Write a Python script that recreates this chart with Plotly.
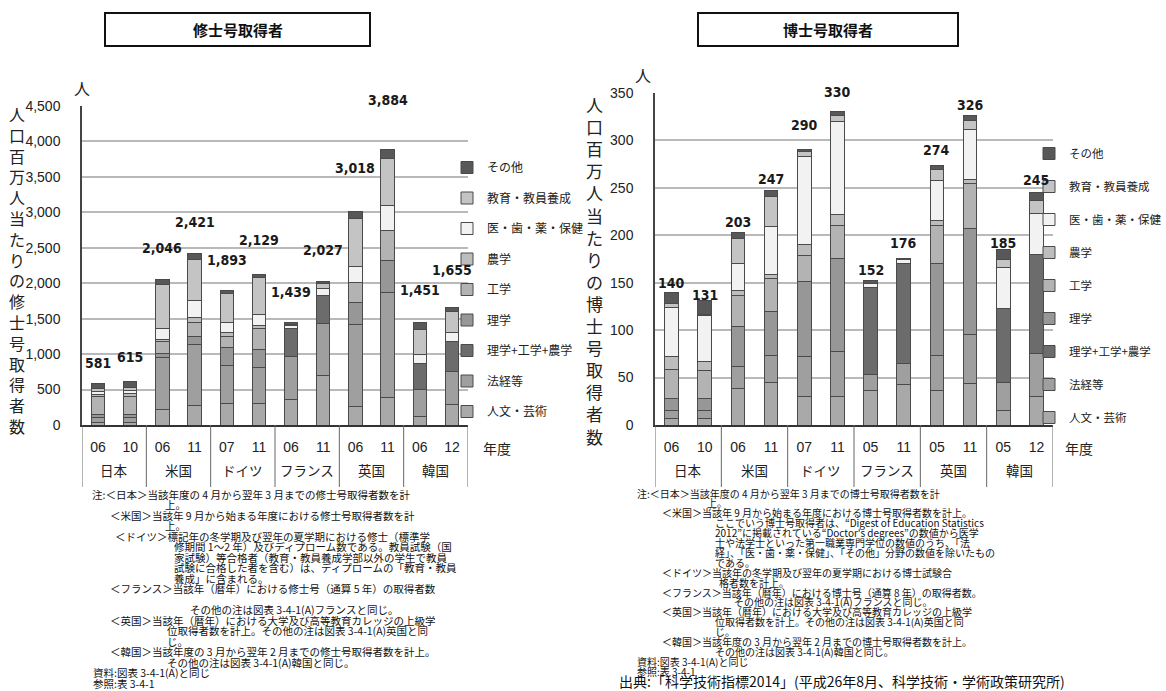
import plotly.graph_objects as go

# ---------------- data ----------------
countries = ["日本", "日本", "米国", "米国", "ドイツ", "ドイツ",
             "フランス", "フランス", "英国", "英国", "韓国", "韓国"]
country_groups = ["日本", "米国", "ドイツ", "フランス", "英国", "韓国"]
years_master = ["06", "10", "06", "11", "07", "11", "06", "11", "06", "11", "06", "12"]
years_doctor = ["06", "10", "06", "11", "07", "11", "05", "11", "05", "11", "05", "12"]

series_names = ["人文・芸術", "法経等", "理学+工学+農学", "理学", "工学",
                "農学", "医・歯・薬・保健", "教育・教員養成", "その他"]

# 修士号取得者 (人口百万人当たり)
m_humanities = [40, 38, 224, 271, 300, 300, 363, 694, 260, 381, 127, 283]
m_law_econ   = [70, 65, 728, 871, 533, 509, 600, 736, 1156, 1495, 368, 472]
m_sci_eng_ag = [None, None, None, None, None, None, 400, 390, None, None, 378, 425]
m_science    = [43, 45, 60, 110, 262, 262, None, None, 307, 451, None, None]
m_engineer   = [245, 255, 170, 200, 157, 286, None, None, 283, 423, None, None]
m_agri       = [35, 38, 22, 71, 48, 48, None, None, None, None, None, None]
m_health     = [40, 45, 162, 238, 152, 152, 40, 110, 227, 353, 118, 118]
m_education  = [45, 50, 609, 571, 405, 520, 10, 60, 684, 663, 354, 307]
m_other      = [63, 79, 71, 89, 36, 52, 26, 37, 101, 118, 106, 50]
m_totals     = [581, 615, 2046, 2421, 1893, 2129, 1439, 2027, 3018, 3884, 1451, 1655]

# 博士号取得者 (人口百万人当たり)
d_humanities = [7, 7, 38, 45, 30, 30, 36, 43, 36, 44, 15, 30]
d_law_econ   = [8, 8, 24, 28, 42, 47, 17, 22, 37, 51, 30, 45]
d_sci_eng_ag = [None, None, None, None, None, None, 92, 105, None, None, 78, 105]
d_science    = [13, 13, 42, 47, 79, 99, None, None, 97, 112, None, None]
d_engineer   = [31, 29, 33, 34, 28, 34, None, None, 40, 48, None, None]
d_agri       = [13, 10, 5, 5, 11, 12, None, None, 6, 4, None, None]
d_health     = [52, 48, 28, 50, 93, 98, 4, 4, 42, 52, 43, 43]
d_education  = [4, 2, 27, 32, 5, 6, None, None, 11, 10, 9, 14]
d_other      = [12, 14, 6, 6, 2, 4, 3, 2, 5, 5, 10, 8]
d_totals     = [140, 131, 203, 247, 290, 330, 152, 176, 274, 326, 185, 245]

master_series = [m_humanities, m_law_econ, m_sci_eng_ag, m_science, m_engineer,
                 m_agri, m_health, m_education, m_other]
doctor_series = [d_humanities, d_law_econ, d_sci_eng_ag, d_science, d_engineer,
                 d_agri, d_health, d_education, d_other]

x_master = [c + " " + y for c, y in zip(countries, years_master)]
x_doctor = [c + " " + y for c, y in zip(countries, years_doctor)]

# ---------------- styling ----------------
W, H = 1166, 691
colors = ["#a9a9a9", "#9f9f9f", "#6c6c6c", "#979797", "#b3b3b3",
          "#bdbdbd", "#f2f2f2", "#c4c4c4", "#585858"]
line_col = "#4a4a4a"
CJK = "Noto Sans CJK JP"
NARROW = "Liberation Sans Narrow, Liberation Sans, Noto Sans CJK JP"
LABEL_FONT = dict(family="DejaVu Sans Condensed, DejaVu Sans", size=14,
                  color="#1a1a1a", weight="bold")

# pixel lift of each total label above its bar top
m_label_lift = [21, 24, 32, 31, 31, 34, 31, 31, 43, 50, 32, 38]
d_label_lift = [9, 6, 10, 12, 25, 20, 11, 15, 15, 11, 7, 13]


def px(xp):
    return xp / W


def py(yp):
    return 1 - yp / H


fig = go.Figure()

for i, name in enumerate(series_names):
    fig.add_trace(go.Bar(
        x=x_master, y=master_series[i], name=name,
        marker=dict(color=colors[i], line=dict(color=line_col, width=1)),
        xaxis="x", yaxis="y", legend="legend", legendgroup="m%d" % i,
        legendrank=100 - i, hoverinfo="skip"))
for i, name in enumerate(series_names):
    fig.add_trace(go.Bar(
        x=x_doctor, y=doctor_series[i], name=name,
        marker=dict(color=colors[i], line=dict(color=line_col, width=1)),
        xaxis="x2", yaxis="y2", legend="legend2", legendgroup="d%d" % i,
        legendrank=100 - i, hoverinfo="skip"))

axis_common_x = dict(type="category", showline=True, linecolor="#333", linewidth=1.5,
                     ticks="", ticklabelstandoff=8,
                     tickfont=dict(family=NARROW, size=14, color="#222"),
                     showgrid=False, fixedrange=True, automargin=False)
axis_common_y = dict(showgrid=True, gridcolor="#b9b9b9", gridwidth=1.5,
                     showline=True, linecolor="#444", linewidth=1.5,
                     ticks="", tickformat=",", ticklabelstandoff=17,
                     tickfont=dict(family=NARROW, size=14, color="#222"),
                     zeroline=False, fixedrange=True, automargin=False)

fig.update_layout(
    width=W, height=H, margin=dict(l=0, r=0, t=0, b=0, autoexpand=False),
    paper_bgcolor="white", plot_bgcolor="white",
    barmode="stack", bargap=0.59,
    xaxis=dict(domain=[px(82), px(468)], anchor="y", range=[-0.5, 11.5],
               tickmode="array", tickvals=x_master, ticktext=years_master,
               **axis_common_x),
    yaxis=dict(domain=[py(425), py(106)], range=[0, 4500], dtick=500, anchor="x",
               **axis_common_y),
    xaxis2=dict(domain=[px(655), px(1053)], anchor="y2", range=[-0.5, 11.5],
                tickmode="array", tickvals=x_doctor, ticktext=years_doctor,
                **axis_common_x),
    yaxis2=dict(domain=[py(425), py(93)], range=[0, 350], dtick=50, anchor="x2",
                **axis_common_y),
    legend=dict(x=px(447), y=py(153), xanchor="left", yanchor="top",
                traceorder="grouped", tracegroupgap=11.5,
                bgcolor="rgba(0,0,0,0)", itemclick=False,
                font=dict(family=CJK, size=12, color="#222")),
    legend2=dict(x=px(1029), y=py(139), xanchor="left", yanchor="top",
                 traceorder="grouped", tracegroupgap=14,
                 bgcolor="rgba(0,0,0,0)", itemclick=False,
                 font=dict(family=CJK, size=11.5, color="#222")),
    font=dict(family=CJK, color="#222"),
)

ann = []
shapes = []
# total labels
for i, t in enumerate(m_totals):
    ann.append(dict(x=x_master[i], y=t, xref="x", yref="y", text=f"{t:,}", showarrow=False,
                    yanchor="middle", yshift=m_label_lift[i], font=LABEL_FONT))
for i, t in enumerate(d_totals):
    ann.append(dict(x=x_doctor[i], y=t, xref="x2", yref="y2", text=f"{t:,}", showarrow=False,
                    yanchor="middle", yshift=d_label_lift[i], font=LABEL_FONT))

# country group labels and dividers under each category axis
for xref in ["x", "x2"]:
    for g, cname in enumerate(country_groups):
        ann.append(dict(x=2 * g + 0.5, y=py(470), xref=xref, yref="paper", text=cname,
                        showarrow=False, xanchor="center", yanchor="middle",
                        font=dict(family=CJK, size=13.5, color="#222")))
    for g in range(len(country_groups) + 1):
        shapes.append(dict(type="line", xref=xref, yref="paper",
                           x0=2 * g - 0.5, x1=2 * g - 0.5, y0=py(487), y1=py(425),
                           line=dict(color="#666", width=1)))

# titles
for txt, cx in [("修士号取得者", 237.5), ("博士号取得者", 828)]:
    ann.append(dict(x=px(cx), y=py(29.5), xref="paper", yref="paper", text=txt,
                    showarrow=False, xanchor="center", yanchor="middle",
                    font=dict(family=CJK, size=15, color="#111", weight="bold")))
shapes += [
    dict(type="rect", xref="paper", yref="paper", x0=px(105), x1=px(370), y0=py(46), y1=py(13),
         line=dict(color="#111", width=2)),
    dict(type="rect", xref="paper", yref="paper", x0=px(698), x1=px(958), y0=py(46), y1=py(13),
         line=dict(color="#111", width=2)),
]

# units
ann.append(dict(x=px(82), y=py(88), xref="paper", yref="paper", text="人", showarrow=False,
                xanchor="center", yanchor="middle", font=dict(family=CJK, size=16, color="#222")))
ann.append(dict(x=px(643), y=py(75), xref="paper", yref="paper", text="人", showarrow=False,
                xanchor="center", yanchor="middle", font=dict(family=CJK, size=16, color="#222")))
# vertical axis titles
ann.append(dict(x=px(17), y=py(270), xref="paper", yref="paper",
                text="<br>".join(list("人口百万人当たりの修士号取得者数")),
                showarrow=False, align="center", xanchor="center", yanchor="middle",
                font=dict(family=CJK, size=16, color="#222")))
ann.append(dict(x=px(594), y=py(270), xref="paper", yref="paper",
                text="<br>".join(list("人口百万人当たりの博士号取得者数")),
                showarrow=False, align="center", xanchor="center", yanchor="middle",
                font=dict(family=CJK, size=17, color="#222")))
# 年度
ann.append(dict(x=px(481), y=py(448), xref="paper", yref="paper", text="年度",
                showarrow=False, xanchor="left", yanchor="middle",
                font=dict(family=CJK, size=14, color="#222")))
ann.append(dict(x=px(1063), y=py(448), xref="paper", yref="paper", text="年度",
                showarrow=False, xanchor="left", yanchor="middle",
                font=dict(family=CJK, size=14, color="#222")))

left_notes = [
    ("注:＜日本＞当該年度の 4 月から翌年 3 月までの修士号取得者数を計", 90),
    ("上。", 163),
    ("＜米国＞当該年 9 月から始まる年度における修士号取得者数を計", 108),
    ("上。", 163),
    ("＜ドイツ＞標記年の冬学期及び翌年の夏学期における修士（標準学", 113),
    ("修期間 1～2 年）及びディプローム数である。教員試験（国", 172),
    ("家試験）等合格者（教育・教員養成学部以外の学生で教員", 172),
    ("試験に合格した者を含む）は、ディプロームの「教育・教員", 172),
    ("養成」に含まれる。", 172),
    ("＜フランス＞当該年（暦年）における修士号（通算 5 年）の取得者数", 108),
    None,
    ("その他の注は図表 3-4-1(A)フランスと同じ。", 188),
    ("＜英国＞当該年（暦年）における大学及び高等教育カレッジの上級学", 108),
    ("位取得者数を計上。その他の注は図表 3-4-1(A)英国と同", 165),
    ("じ。", 165),
    ("＜韓国＞当該年度の 3 月から翌年 2 月までの修士号取得者数を計上。", 108),
    ("その他の注は図表 3-4-1(A)韓国と同じ。", 165),
    ("資料:図表 3-4-1(A)と同じ", 91),
    ("参照:表 3-4-1", 91),
]
right_notes = [
    ("注:＜日本＞当該年度の 4 月から翌年 3 月までの博士号取得者数を計", 635),
    ("上。", 705),
    ("＜米国＞当該年 9 月から始まる年度における博士号取得者数を計上。", 660),
    ("ここでいう博士号取得者は、“Digest of Education Statistics", 713),
    ("2012”に掲載されている“Doctor's degrees”の数値から医学", 713),
    ("士や法学士といった第一職業専門学位の数値のうち、「法", 713),
    ("経」、「医・歯・薬・保健」、「その他」分野の数値を除いたもの", 713),
    ("である。", 713),
    ("＜ドイツ＞当該年の冬学期及び翌年の夏学期における博士試験合", 660),
    ("格者数を計上。", 717),
    ("＜フランス＞当該年（暦年）における博士号（通算 8 年）の取得者数。", 660),
    ("その他の注は図表 3-4-1(A)フランスと同じ。", 732),
    ("＜英国＞当該年（暦年）における大学及び高等教育カレッジの上級学", 660),
    ("位取得者数を計上。その他の注は図表 3-4-1(A)英国と同", 713),
    ("じ。", 713),
    ("＜韓国＞当該年度の 3 月から翌年 2 月までの博士号取得者数を計上。", 660),
    ("その他の注は図表 3-4-1(A)韓国と同じ。", 713),
    ("資料:図表 3-4-1(A)と同じ", 635),
    ("参照:表 3-4-1", 635),
]
for i, item in enumerate(left_notes):
    if item is None:
        continue
    txt, x0 = item
    ann.append(dict(x=px(x0), y=py(494 + i * 10.5), xref="paper", yref="paper", text=txt,
                    showarrow=False, xanchor="left", yanchor="middle",
                    font=dict(family=CJK, size=10.5, color="#111")))
for i, (txt, x0) in enumerate(right_notes):
    ann.append(dict(x=px(x0), y=py(493 + i * 9.9), xref="paper", yref="paper", text=txt,
                    showarrow=False, xanchor="left", yanchor="middle",
                    font=dict(family=CJK, size=10, color="#111")))
ann.append(dict(x=px(617), y=py(681), xref="paper", yref="paper",
                text="出典:「科学技術指標2014」(平成26年8月、科学技術・学術政策研究所)",
                showarrow=False, xanchor="left", yanchor="middle",
                font=dict(family=CJK, size=14, color="#111")))

fig.update_layout(annotations=ann, shapes=shapes)
fig.write_html("out.html", config={"displayModeBar": False},
               post_script="document.body.style.margin='0px';")
